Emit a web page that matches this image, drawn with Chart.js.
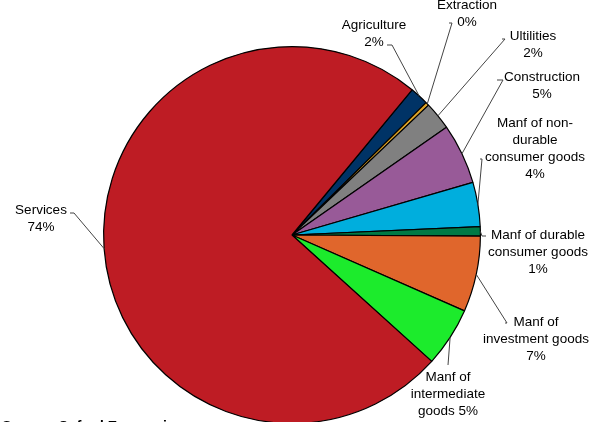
<!DOCTYPE html>
<html>
<head>
<meta charset="utf-8">
<script src="https://cdn.jsdelivr.net/npm/chart.js@4.4.0/dist/chart.umd.min.js"></script>
<style>
  html, body { margin: 0; padding: 0; background: #fff; overflow: hidden; }
  #wrap { width: 599px; height: 440px; position: relative; }
</style>
</head>
<body>
<div id="wrap"><canvas id="pieChart"></canvas></div>
<script>
// sectors, clockwise from Agriculture
const categories = ['Agriculture', 'Extraction', 'Utilities', 'Construction',
    'Manf of non-durable consumer goods', 'Manf of durable consumer goods',
    'Manf of investment goods', 'Manf of intermediate goods', 'Services'];
const shares = [1.6, 0.3, 2.4, 5.2, 3.8, 0.8, 6.5, 5.1, 74.3];
const colors = ['#003366', '#E0A526', '#808080', '#985A98', '#00AEDD',
    '#007A45', '#E0662C', '#1CEB2C', '#BE1C24'];

// label text, {p} is replaced by the rounded percentage
const labelLines = [
    ['Agriculture', '{p}'],
    ['Extraction', '{p}'],
    ['Ultilities', '{p}'],
    ['Construction', '{p}'],
    ['Manf of non-', 'durable', 'consumer goods', '{p}'],
    ['Manf of durable', 'consumer goods', '{p}'],
    ['Manf of', 'investment goods', '{p}'],
    ['Manf of', 'intermediate', 'goods {p}'],
    ['Services', '{p}']
];

// label layout: text centre x, first line y, leader elbow, tick length
const labelLayout = [
    { x: 374, y: 25, ex: 392, ey: 45, tick: -5 },
    { x: 467, y: 5, ex: 452, ey: 23, tick: -3 },
    { x: 533, y: 36, ex: 505, ey: 39, tick: -3 },
    { x: 542, y: 77, ex: 503, ey: 80, tick: -6 },
    { x: 535, y: 123, ex: 482, ey: 159, tick: -2 },
    { x: 538, y: 235, ex: 482, ey: 236, tick: 4 },
    { x: 536, y: 322, ex: 507, ey: 323, tick: -2 },
    { x: 448, y: 377, ex: 448, ey: 365, tick: 0 },
    { x: 41, y: 210, ex: 74, ey: 213, tick: -4 }
];

const total = shares.reduce((a, b) => a + b, 0);

const labelPlugin = {
    id: 'sliceLabels',
    afterDraw(chart) {
        const ctx = chart.ctx;
        const meta = chart.getDatasetMeta(0);
        ctx.save();
        ctx.font = '13.5px "Liberation Sans", Arial, sans-serif';
        ctx.fillStyle = '#000';
        ctx.textAlign = 'center';
        ctx.textBaseline = 'middle';
        meta.data.forEach((arc, i) => {
            const p = Math.round(shares[i] / total * 100) + '%';
            const lay = labelLayout[i];
            labelLines[i].forEach((line, k) => {
                ctx.fillText(line.replace('{p}', p), lay.x, lay.y + k * 17);
            });
            const mid = (arc.startAngle + arc.endAngle) / 2;
            const ax = arc.x + arc.outerRadius * Math.cos(mid);
            const ay = arc.y + arc.outerRadius * Math.sin(mid);
            ctx.strokeStyle = '#444';
            ctx.lineWidth = 1;
            ctx.beginPath();
            ctx.moveTo(ax, ay);
            ctx.lineTo(lay.ex, lay.ey);
            ctx.lineTo(lay.ex + lay.tick, lay.ey);
            ctx.stroke();
        });
        // source note, mostly below the visible area
        ctx.textAlign = 'left';
        ctx.textBaseline = 'alphabetic';
        ctx.font = 'bold 14px "Liberation Sans", Arial, sans-serif';
        ctx.fillText('Source: Oxford Economics', 2, 430.5);
        ctx.restore();
    }
};

const ctx = document.getElementById('pieChart').getContext('2d');

new Chart(ctx, {
    type: 'pie',
    data: {
        labels: categories,
        datasets: [{
            data: shares,
            backgroundColor: colors,
            borderColor: '#000',
            borderWidth: 1.2
        }]
    },
    options: {
        responsive: true,
        maintainAspectRatio: false,
        animation: false,
        rotation: 39.6,
        layout: {
            padding: { top: 46, bottom: 16, left: 103, right: 118 }
        },
        plugins: {
            legend: { display: false },
            tooltip: { enabled: false }
        }
    },
    plugins: [labelPlugin]
});
</script>
</body>
</html>
